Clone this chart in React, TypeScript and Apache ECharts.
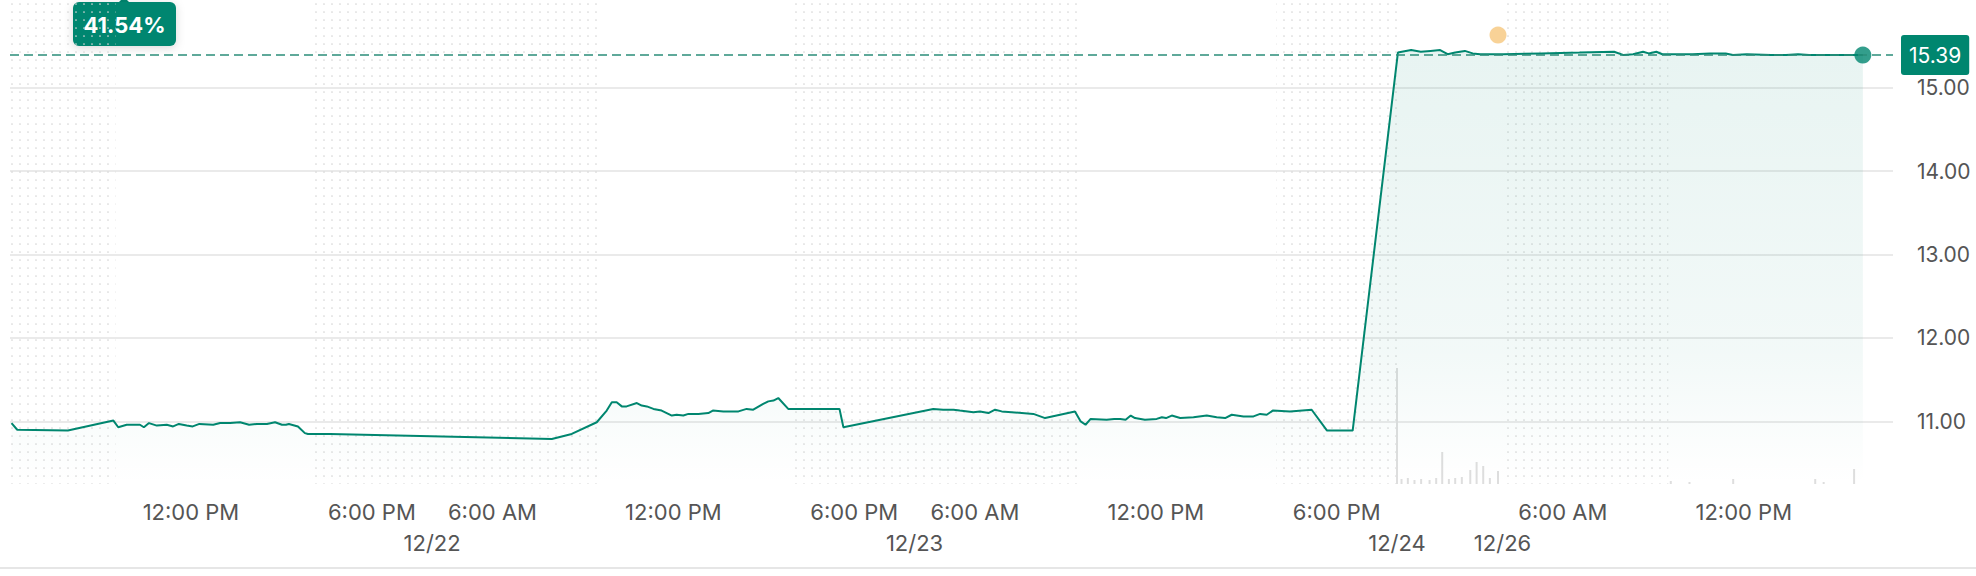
import React, { useEffect, useRef } from "react";
import * as echarts from "echarts";

// x = trading-timeline hours from the left edge (12/19 6:00 AM); nights are compressed.
const priceSeries: [number, number][] = [
  [0.05, 10.98], [0.24, 10.9], [1.92, 10.89], [3.43, 11.01], [3.59, 10.93], [3.87, 10.96], [4.15, 10.96],
  [4.31, 10.96], [4.44, 10.93], [4.61, 10.98], [4.87, 10.95], [5.2, 10.96], [5.41, 10.94], [5.6, 10.97],
  [5.86, 10.95], [6.06, 10.94], [6.28, 10.97], [6.74, 10.96], [6.97, 10.98], [7.3, 10.98], [7.63, 10.99],
  [7.93, 10.96], [8.19, 10.97], [8.52, 10.97], [8.79, 10.99], [9.02, 10.96], [9.15, 10.96], [9.25, 10.97],
  [9.55, 10.94], [9.78, 10.86], [9.88, 10.85], [10.61, 10.85],
  [17.97, 10.79], [18.63, 10.85], [19.46, 10.99], [19.79, 11.13], [19.96, 11.23], [20.12, 11.23],
  [20.29, 11.18], [20.45, 11.18], [20.79, 11.22], [20.95, 11.19], [21.12, 11.18], [21.34, 11.15],
  [21.61, 11.13], [21.95, 11.07], [22.11, 11.08], [22.33, 11.07], [22.5, 11.09], [22.83, 11.09],
  [23.16, 11.1], [23.31, 11.13], [23.66, 11.12], [24.16, 11.12], [24.43, 11.15], [24.65, 11.14],
  [24.98, 11.21], [25.15, 11.24], [25.32, 11.25], [25.48, 11.28], [25.81, 11.15], [27.51, 11.15],
  [27.64, 10.93],
  [30.62, 11.15], [30.95, 11.14], [31.29, 11.14], [31.5, 11.13], [31.95, 11.11], [32.17, 11.12],
  [32.45, 11.1], [32.67, 11.14], [32.89, 11.12], [33.94, 11.09], [34.33, 11.04], [35.32, 11.12],
  [35.51, 11.0], [35.67, 10.96], [35.84, 11.03], [36.37, 11.02], [36.62, 11.03], [36.82, 11.03],
  [37.0, 11.02], [37.17, 11.07], [37.31, 11.04], [37.64, 11.02], [38.03, 11.03], [38.2, 11.05],
  [38.34, 11.04], [38.53, 11.07], [38.81, 11.04], [39.25, 11.05], [39.69, 11.07], [40.02, 11.05],
  [40.3, 11.04], [40.52, 11.08], [40.91, 11.06], [41.24, 11.06], [41.46, 11.09], [41.68, 11.08],
  [41.88, 11.13], [42.45, 11.12], [43.17, 11.14], [43.68, 10.89], [44.53, 10.89],
  [46.03, 15.42], [46.16, 15.43], [46.47, 15.45], [46.79, 15.43], [47.11, 15.44], [47.43, 15.45],
  [47.68, 15.4], [47.93, 15.42], [48.25, 15.44], [48.51, 15.41], [48.76, 15.4],
  [49.52, 15.4], [50.78, 15.41], [52.06, 15.42], [53.2, 15.43], [53.52, 15.39], [53.83, 15.4],
  [54.16, 15.43], [54.35, 15.41], [54.6, 15.43], [54.8, 15.4], [55.22, 15.4], [55.8, 15.4],
  [56.38, 15.41], [56.9, 15.41], [57.14, 15.39], [57.6, 15.4], [58.41, 15.39], [58.9, 15.39],
  [59.3, 15.4], [59.67, 15.39], [60.3, 15.39], [60.95, 15.39], [61.45, 15.39],
];

const volumeSeries: [number, number][] = [
  [46.0, 116], [46.15, 5], [46.36, 6], [46.58, 4], [46.8, 5], [47.08, 4], [47.3, 6], [47.5, 32],
  [47.72, 5], [47.93, 6], [48.15, 7], [48.43, 14], [48.64, 22], [48.86, 18], [49.08, 6], [49.35, 13],
  [55.08, 3], [55.7, 2], [57.15, 5], [59.87, 5], [60.15, 2], [61.16, 15],
];

const eventMarkers: [number, number][] = [[49.35, 15.63]];

const prevClose = 10.873;
const lastPrice = 15.39;

const yTickValues = [11, 12, 13, 14, 15];
const timeTickValues = [6, 12, 16, 22, 28, 32, 38, 44, 51.5, 57.5];
const timeTickLabels = [
  "12:00 PM", "6:00 PM", "6:00 AM", "12:00 PM", "6:00 PM", "6:00 AM", "12:00 PM", "6:00 PM", "6:00 AM", "12:00 PM",
];
const dateTickValues = [14, 30, 46, 49.5];
const dateTickLabels = ["12/22", "12/23", "12/24", "12/26"];

// extended-hours (pre/post market) spans, drawn with a dotted background
const extendedHours: [number, number][] = [[0, 3.5], [10, 19.5], [26, 35.5], [42, 46], [49.5, 55]];

const X_MIN = 0;
const X_MAX = 62.45;

const TEAL = "#00866f";
const FONT = "Inter, 'Liberation Sans', sans-serif";

function lookup(values: number[], labels: string[], v: number) {
  const i = values.findIndex((t) => Math.abs(t - v) < 1e-6);
  return i >= 0 ? labels[i] : "";
}

function makeDots(): string {
  const c = document.createElement("canvas");
  c.width = 8;
  c.height = 8;
  const ctx = c.getContext("2d");
  if (ctx) {
    ctx.fillStyle = "#d6d6d6";
    ctx.beginPath();
    ctx.arc(4, 4, 0.85, 0, Math.PI * 2);
    ctx.fill();
  }
  return c.toDataURL();
}

export default function App() {
  const ref = useRef<HTMLDivElement>(null);

  useEffect(() => {
    if (!ref.current) return;
    const chart = echarts.init(ref.current, undefined, { renderer: "svg" });
    const dots = makeDots();
    const pct = ((lastPrice / prevClose - 1) * 100).toFixed(2) + "%";
    const last = priceSeries[priceSeries.length - 1];

    chart.setOption({
      animation: false,
      backgroundColor: "#ffffff",
      textStyle: { fontFamily: FONT },
      grid: { left: 10, right: 83, top: 0, bottom: 92, containLabel: false },
      xAxis: [
        {
          type: "value",
          min: X_MIN,
          max: X_MAX,
          axisLine: { show: false },
          axisTick: { show: false },
          splitLine: { show: false },
          axisLabel: {
            customValues: timeTickValues,
            formatter: (v: number) => lookup(timeTickValues, timeTickLabels, v),
            color: "#555555",
            fontSize: 22,
            fontFamily: FONT,
            margin: 17,
          },
        },
        {
          type: "value",
          min: X_MIN,
          max: X_MAX,
          position: "bottom",
          offset: 31,
          axisLine: { show: false },
          axisTick: { show: false },
          splitLine: { show: false },
          axisLabel: {
            customValues: dateTickValues,
            formatter: (v: number) => lookup(dateTickValues, dateTickLabels, v),
            color: "#555555",
            fontSize: 22,
            fontFamily: FONT,
            margin: 17,
          },
        },
      ],
      yAxis: [
        {
          type: "value",
          position: "right",
          min: 10.25,
          max: 16.05,
          axisLine: { show: false },
          axisTick: { show: false, customValues: yTickValues },
          axisLabel: {
            customValues: yTickValues,
            formatter: (v: number) => v.toFixed(2),
            color: "#555555",
            fontSize: 21,
            fontFamily: FONT,
            margin: 24,
          },
          splitLine: { show: true, lineStyle: { color: "#e3e3e3", width: 1.5 } },
        },
        {
          type: "value",
          show: false,
          min: 0,
          max: 484,
          splitLine: { show: false },
        },
      ],
      series: [
        {
          type: "bar",
          xAxisIndex: 0,
          yAxisIndex: 1,
          data: volumeSeries,
          barWidth: 2,
          itemStyle: { color: "#dedede" },
          silent: true,
        },
        {
          type: "line",
          xAxisIndex: 0,
          yAxisIndex: 0,
          data: priceSeries,
          showSymbol: false,
          symbol: "none",
          lineStyle: { color: TEAL, width: 2 },
          areaStyle: {
            origin: "start",
            color: {
              type: "linear",
              x: 0,
              y: 0,
              x2: 0,
              y2: 1,
              colorStops: [
                { offset: 0, color: "rgba(0,134,111,0.13)" },
                { offset: 0.7, color: "rgba(0,134,111,0.07)" },
                { offset: 1, color: "rgba(0,134,111,0.0)" },
              ],
            },
          },
          markArea: {
            silent: true,
            itemStyle: {
              color: { image: dots, repeat: "repeat", imageWidth: 8, imageHeight: 8 },
            },
            data: extendedHours.map(([a, b]) => [{ xAxis: a }, { xAxis: b }]),
          },
          markLine: {
            silent: true,
            symbol: ["none", "none"],
            lineStyle: { color: "#2b8d79", type: [9, 5], width: 1.6 },
            label: {
              show: true,
              position: "end",
              distance: 8,
              formatter: lastPrice.toFixed(2),
              backgroundColor: TEAL,
              color: "#ffffff",
              fontSize: 21,
              fontFamily: FONT,
              padding: [10, 8, 9, 8],
              borderRadius: 3,
            },
            data: [{ yAxis: lastPrice }],
          },
          z: 3,
        },
        {
          type: "scatter",
          data: [last],
          symbolSize: 17,
          itemStyle: { color: TEAL },
          z: 4,
        },
        {
          type: "scatter",
          data: eventMarkers,
          symbolSize: 17,
          itemStyle: { color: "#f6c77d" },
          z: 4,
        },
      ],
      graphic: [
        {
          type: "rect",
          shape: { x: 0, y: 567, width: 1976, height: 2 },
          style: { fill: "#e6e6e6" },
          silent: true,
        },
        {
          type: "group",
          children: [
            {
              type: "polygon",
              shape: { points: [[117, 4], [124, -3], [131, 4]] },
              style: { fill: TEAL },
            },
            {
              type: "rect",
              shape: { x: 73, y: 2, width: 103, height: 44, r: 6 },
              style: {
                fill: TEAL,
                shadowBlur: 10,
                shadowColor: "rgba(0,0,0,0.15)",
                shadowOffsetY: 2,
              },
            },
            {
              type: "text",
              style: {
                text: pct,
                x: 124.5,
                y: 24.5,
                align: "center",
                verticalAlign: "middle",
                textAlign: "center",
                textVerticalAlign: "middle",
                fill: "#ffffff",
                fontSize: 22,
                fontWeight: 700,
                fontFamily: FONT,
              },
            },
          ],
        },
      ],
    });

    return () => chart.dispose();
  }, []);

  return (
    <div
      ref={ref}
      style={{ position: "absolute", left: 0, top: 0, width: 1976, height: 576, background: "#fff" }}
    />
  );
}
